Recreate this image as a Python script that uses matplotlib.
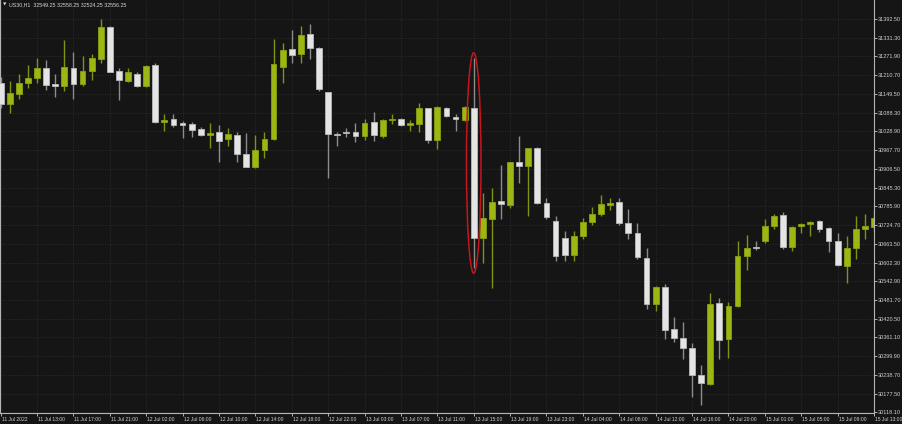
import matplotlib
matplotlib.use('Agg')
import matplotlib.pyplot as plt
import matplotlib.transforms as mtrans
from matplotlib.patches import Ellipse
import numpy as np

# US30 H1 candles, 11 Jul 2022 09:00 -> 15 Jul 13:00
opens = [31184.9, 31115.9, 31150.2, 31184.0, 31200.2, 31232.6, 31180.1, 31176.2, 31232.6, 31180.7,
         31223.8, 31261.8, 31367.5, 31224.8, 31192.4, 31213.1, 31176.2, 31242.3, 31058.5, 31068.2,
         31054.2, 31051.0, 31034.8, 31016.3, 31027.0, 31003.3, 31016.3, 30953.7, 30913.5, 30967.6,
         31002.3, 31237.8, 31294.2, 31278.0, 31343.8, 31297.5, 31154.8, 31019.5, 31026.0, 31025.1,
         31014.0, 31057.5, 31014.0, 31064.9, 31068.2, 31048.7, 31051.0, 31102.9, 31000.1, 31102.9,
         31075.6, 31064.9, 31104.8, 30681.3, 30743.9, 30802.3, 30789.3, 30929.7, 30915.8, 30973.2,
         30794.8, 30738.4, 30683.2, 30627.1, 30688.8, 30735.1, 30759.1, 30790.3, 30798.0, 30731.9,
         30699.5, 30618.4, 30467.3, 30524.3, 30386.2, 30357.0, 30324.6, 30238.0, 30208.8, 30470.5,
         30353.8, 30461.7, 30624.9, 30654.0, 30672.5, 30722.1, 30756.9, 30652.1, 30721.2, 30726.7,
         30738.4, 30713.7, 30673.5, 30591.5, 30650.8, 30710.5, 30718.9]
highs = [31204.4, 31191.4, 31213.1, 31243.3, 31267.0, 31259.5, 31213.1, 31324.4, 31286.4, 31272.5,
         31279.0, 31392.5, 31369.8, 31234.6, 31232.6, 31219.6, 31243.3, 31248.8, 31084.4, 31083.4,
         31061.7, 31059.4, 31043.2, 31054.2, 31048.7, 31038.0, 31025.1, 31021.8, 31016.3, 31027.0,
         31327.6, 31313.7, 31356.8, 31370.8, 31376.3, 31302.7, 31156.7, 31025.1, 31040.0, 31054.2,
         31068.2, 31089.9, 31068.2, 31084.4, 31070.4, 31064.9, 31121.0, 31104.8, 31111.3, 31108.1,
         31084.4, 31110.3, 31266.0, 30829.2, 30845.4, 30919.0, 30929.7, 31013.1, 30975.1, 30978.4,
         30811.0, 30753.6, 30705.0, 30705.9, 30748.1, 30781.8, 30821.7, 30811.0, 30813.0, 30775.3,
         30731.9, 30650.8, 30526.6, 30532.1, 30427.0, 30410.8, 30340.8, 30270.4, 30502.9, 30486.7,
         30473.7, 30673.5, 30692.0, 30673.5, 30742.9, 30759.1, 30767.6, 30721.2, 30729.9, 30738.4,
         30740.6, 30718.9, 30697.5, 30688.8, 30753.6, 30760.1, 30773.1]
lows = [31103.9, 31088.6, 31132.1, 31169.7, 31185.9, 31162.2, 31140.5, 31159.0, 31133.0, 31175.2,
        31194.7, 31250.8, 31219.0, 31129.8, 31189.1, 31172.9, 31172.9, 31054.2, 31029.3, 31041.3,
        31005.6, 31010.8, 31014.0, 30975.1, 30927.8, 30980.6, 30929.7, 30911.5, 30908.3, 30940.7,
        30999.1, 31184.0, 31250.8, 31250.8, 31261.8, 31160.0, 30875.9, 30981.6, 31010.8, 30992.6,
        31000.1, 30996.8, 31005.6, 31051.0, 31046.5, 31029.3, 31025.1, 30990.4, 30970.9, 31073.7,
        31030.2, 31062.7, 30585.0, 30600.2, 30521.1, 30743.9, 30778.6, 30861.6, 30753.6, 30792.5,
        30742.9, 30607.7, 30607.7, 30607.7, 30678.0, 30724.4, 30753.6, 30773.1, 30724.4, 30678.0,
        30614.2, 30452.0, 30445.5, 30353.8, 30346.0, 30288.9, 30167.6, 30140.7, 30205.5, 30288.9,
        30294.1, 30457.5, 30578.5, 30643.3, 30667.0, 30711.5, 30645.6, 30641.1, 30699.5, 30688.8,
        30702.7, 30637.8, 30592.4, 30535.4, 30613.2, 30678.0, 30701.7]
closes = [31116.8, 31153.5, 31184.0, 31202.1, 31232.6, 31178.4, 31176.8, 31235.8, 31180.7, 31223.8,
          31265.0, 31365.6, 31221.6, 31194.7, 31219.6, 31176.2, 31240.1, 31058.5, 31065.9, 31048.7,
          31047.8, 31032.5, 31016.3, 31023.8, 30997.8, 31018.6, 30953.7, 30913.5, 30967.6, 31002.3,
          31245.6, 31291.9, 31275.7, 31340.6, 31297.5, 31165.5, 31018.6, 31017.3, 31023.8, 31014.0,
          31056.2, 31016.3, 31064.9, 31068.2, 31048.7, 31056.2, 31102.9, 31000.1, 31108.1, 31078.9,
          31068.2, 31106.1, 30681.3, 30746.2, 30798.0, 30791.6, 30927.8, 30915.8, 30973.2, 30794.8,
          30751.3, 30624.9, 30627.1, 30689.7, 30735.1, 30759.1, 30792.5, 30794.8, 30731.9, 30699.5,
          30619.7, 30467.3, 30524.3, 30383.9, 30357.0, 30324.6, 30238.0, 30213.0, 30468.2, 30351.5,
          30462.7, 30623.9, 30648.9, 30650.8, 30722.1, 30754.6, 30654.0, 30718.9, 30726.7, 30735.1,
          30710.5, 30673.5, 30594.7, 30650.8, 30710.5, 30722.1, 30746.2]

time_labels = ['11 Jul 2022', '11 Jul 13:00', '11 Jul 17:00', '11 Jul 21:00', '12 Jul 02:00',
               '12 Jul 06:00', '12 Jul 10:00', '12 Jul 14:00', '12 Jul 18:00', '12 Jul 22:00',
               '13 Jul 03:00', '13 Jul 07:00', '13 Jul 11:00', '13 Jul 15:00', '13 Jul 19:00',
               '13 Jul 23:00', '14 Jul 04:00', '14 Jul 08:00', '14 Jul 12:00', '14 Jul 16:00',
               '14 Jul 20:00', '15 Jul 01:00', '15 Jul 05:00', '15 Jul 09:00', '15 Jul 13:00']
price_ticks = [31392.50, 31331.30, 31271.90, 31210.70, 31149.50, 31088.30, 31028.90, 30967.70,
               30906.50, 30845.30, 30785.90, 30724.70, 30663.50, 30602.30, 30542.90, 30481.70,
               30420.50, 30361.10, 30299.90, 30238.70, 30177.50, 30118.10]
title = 'US30,H1  32549.25 32558.25 32524.25 32556.25'
marked_bar = 52

bg = '#151515'
bull_col = '#9db614'
bear_col = '#e4e4e4'
plt.rcParams['font.family'] = ['Liberation Sans', 'DejaVu Sans']

o = np.array(opens); h = np.array(highs); l = np.array(lows); c = np.array(closes)
x = np.arange(len(o))
up = c >= o

fig = plt.figure(figsize=(9.02, 4.24), dpi=100, facecolor=bg)
ax = fig.add_axes([0, 11 / 424, 874 / 902, 413 / 424], facecolor=bg)

ax.vlines(x[up], l[up], h[up], color='#7f9212', lw=1.0, zorder=2)
ax.vlines(x[~up], l[~up], h[~up], color='#8c8c8c', lw=1.0, zorder=2)
body_lo = np.minimum(o, c)
body_h = np.maximum(np.abs(c - o), 1.5)
ax.bar(x[up], body_h[up], bottom=body_lo[up], width=0.64, color=bull_col,
       edgecolor='#8aa010', lw=0.6, zorder=3)
ax.bar(x[~up], body_h[~up], bottom=body_lo[~up], width=0.64, color=bear_col,
       edgecolor='#b8b8b8', lw=0.6, zorder=3)

# red ellipse around the big drop candle
mid = (h[marked_bar] + l[marked_bar]) / 2
ax.add_patch(Ellipse((marked_bar, mid), 1.6, (h[marked_bar] - l[marked_bar]) * 1.05,
                     fill=False, ec='#c8141c', lw=1.1, zorder=4))

ax.set_xlim(-0.07, 95.98)
ax.set_ylim(30114.7, 31454.1)

ax.set_xticks(np.arange(0, 4 * len(time_labels), 4))
ax.set_xticklabels(time_labels)
ax.set_yticks(price_ticks)
ax.set_yticklabels(['%.2f' % v for v in price_ticks])
ax.yaxis.tick_right()
ax.tick_params(axis='both', colors='#c8c8c8', labelcolor='#d0d0d0',
               length=2.0, width=0.6, direction='out')
ax.tick_params(axis='y', pad=0.8, labelsize=4.0)
ax.tick_params(axis='x', pad=0.6, labelsize=3.6)
shift = mtrans.ScaledTranslation(1.0 / 100, 0, fig.dpi_scale_trans)
for lab in ax.get_xticklabels():
    lab.set_horizontalalignment('left')
    lab.set_transform(lab.get_transform() + shift)

ax.grid(True, color='#333333', lw=0.6, ls=(0, (1, 2)))
ax.spines['top'].set_visible(False)
for s in ['left', 'right', 'bottom']:
    ax.spines[s].set_color('#b4b4b4')
    ax.spines[s].set_linewidth(0.8)

fig.text(3 / 902, 1 - 5 / 424, '\u25bc', color='#d8d8d8', fontsize=3.2, va='center',
         ha='left', family=['DejaVu Sans'])
fig.text(9 / 902, 1 - 5 / 424, title, color='#d8d8d8', fontsize=3.8, va='center', ha='left')

fig.savefig('out.png', dpi=100, facecolor=bg)
